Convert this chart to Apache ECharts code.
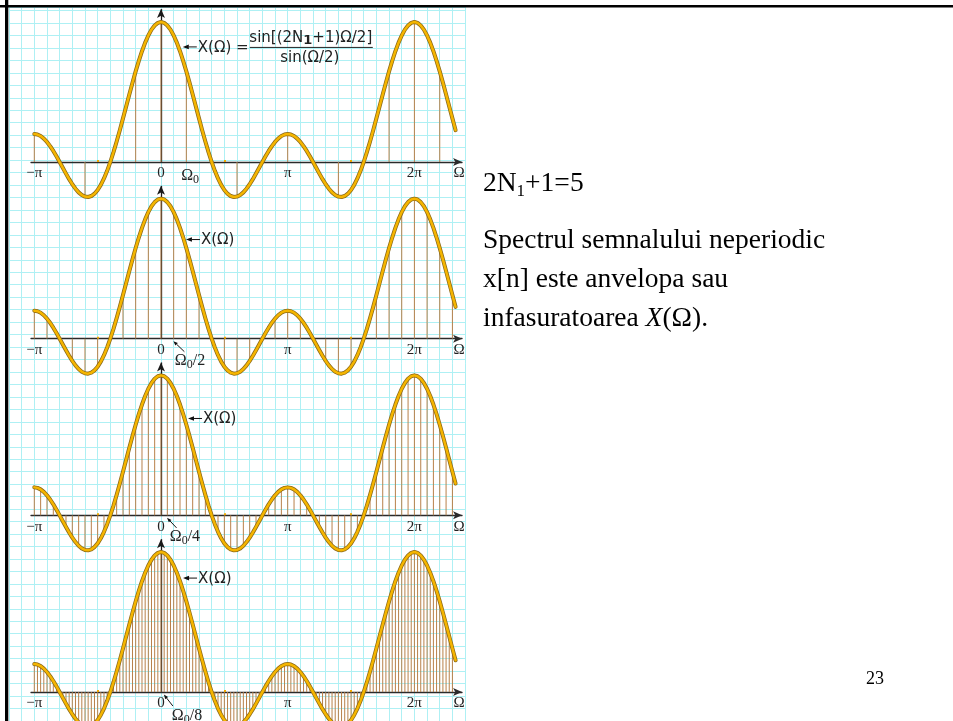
<!DOCTYPE html>
<html>
<head>
<meta charset="utf-8">
<script src="https://cdn.jsdelivr.net/npm/echarts@6/dist/echarts.min.js"></script>
<style>
html,body{margin:0;padding:0;background:#fff;}
#c{width:953px;height:721px;}
</style>
</head>
<body>
<div id="c"></div>
<script>
// ---- data (x in units of π) ----
const envelopeStart = -1;      // first sample: Ω = -π
const envelopeStep = 0.025;    // sample spacing: Ω0/8 = π/40
// X(Ω) read at Ω = -π ... 2.325π, step π/40
const envelope = [
  1, 0.982, 0.927, 0.837, 0.716, 0.567, 0.394, 0.203, 0, -0.208,
  -0.414, -0.612, -0.794, -0.953, -1.084, -1.180, -1.236, -1.249, -1.215, -1.132,
  -1, -0.819, -0.589, -0.315, 0, 0.351, 0.732, 1.137, 1.558, 1.986,
  2.414, 2.834, 3.236, 3.613, 3.957, 4.262, 4.520, 4.727, 4.877, 4.969,
  5,
  4.969, 4.877, 4.727, 4.520, 4.262, 3.957, 3.613, 3.236, 2.834, 2.414,
  1.986, 1.558, 1.137, 0.732, 0.351, 0, -0.315, -0.589, -0.819, -1,
  -1.132, -1.215, -1.249, -1.236, -1.180, -1.084, -0.953, -0.794, -0.612, -0.414,
  -0.208, 0, 0.203, 0.394, 0.567, 0.716, 0.837, 0.927, 0.982, 1,
  0.982, 0.927, 0.837, 0.716, 0.567, 0.394, 0.203, 0, -0.208, -0.414,
  -0.612, -0.794, -0.953, -1.084, -1.180, -1.236, -1.249, -1.215, -1.132, -1,
  -0.819, -0.589, -0.315, 0, 0.351, 0.732, 1.137, 1.558, 1.986, 2.414,
  2.834, 3.236, 3.613, 3.957, 4.262, 4.520, 4.727, 4.877, 4.969,
  5,
  4.969, 4.877, 4.727, 4.520, 4.262, 3.957, 3.613, 3.236, 2.834, 2.414,
  1.986, 1.558, 1.137
];
const stemStride = [8, 4, 2, 1];   // Ω0, Ω0/2, Ω0/4, Ω0/8 in samples
const stemLastIndex = 132;         // last stem at 2.3π
const xTickValues = [-1, 0, 1, 2, 2.352];
const xTickLabels = ['\u2212\u03c0', '0', '\u03c0', '2\u03c0', '\u03a9'];
const smallTickValues = [-0.5, 0.5, 1.5];
const omegaLabels = ['', '/2', '/4', '/8'];

// ---- layout ----
const X0 = 161, PX_PI = 126.7, YU = 28, CELL = 12.62;
const baselines = [162, 162 + 14 * CELL, 162 + 28 * CELL, 162 + 42 * CELL];
const XMIN = -1.026, XMAX = 2.376, YMAX = 5.5;
const GRID_COLOR = '#aef0f4';
const SERIF = "'Liberation Serif', 'Times New Roman', serif";
const SANS = "'DejaVu Sans', Verdana, sans-serif";

const chart = echarts.init(document.getElementById('c'), null, {renderer: 'canvas'});

const grids = [{left: X0 - 1.2 * PX_PI, width: 3.6 * PX_PI, top: 162 - 12.3 * CELL, height: 57.3 * CELL}];
const hidden = {axisLine: {show: false}, axisTick: {show: false}, axisLabel: {show: false}};
const xAxes = [Object.assign({gridIndex: 0, type: 'value', min: -1.2, max: 2.4, interval: 0.1, silent: true,
  splitLine: {show: true, lineStyle: {color: GRID_COLOR, width: 1}}}, hidden)];
const yAxes = [Object.assign({gridIndex: 0, type: 'value', min: -45, max: 12.3, interval: 1, silent: true,
  splitLine: {show: true, lineStyle: {color: GRID_COLOR, width: 1}}}, hidden)];
const series = [];

const curve = envelope.map((v, i) => [envelopeStart + i * envelopeStep, v]);

for (let p = 0; p < 4; p++) {
  const gi = p + 1;
  // grid bottom sits on the Ω axis (value 0); negative lobes are drawn below it unclipped
  grids.push({left: X0 + XMIN * PX_PI, width: (XMAX - XMIN) * PX_PI,
    top: baselines[p] - YMAX * YU, height: YMAX * YU});
  const vals = xTickValues.slice();
  const labs = xTickLabels.slice();
  if (p === 0) { vals.push(0.23); labs.push('{o|\u03a9}{s|0}'); }
  xAxes.push({
    gridIndex: gi, type: 'value', min: XMIN, max: XMAX, silent: true,
    axisLine: {show: true, onZero: false, symbol: ['none', 'arrow'], symbolSize: [6, 9],
      lineStyle: {color: '#2a2a2a', width: 1.3}},
    axisTick: {show: true, customValues: smallTickValues, inside: true, length: 2,
      lineStyle: {color: '#f0a800', width: 2}},
    axisLabel: {show: true, customValues: vals, margin: 4, fontFamily: SERIF, fontSize: 15, color: '#222',
      formatter: v => { for (let i = 0; i < vals.length; i++) if (Math.abs(v - vals[i]) < 1e-6) return labs[i]; return ''; },
      rich: {o: {fontFamily: SERIF, fontSize: 16, lineHeight: 20, color: '#222'},
             s: {fontFamily: SERIF, fontSize: 12, lineHeight: 12, verticalAlign: 'bottom', color: '#222'}}},
    splitLine: {show: false}
  });
  yAxes.push({gridIndex: gi, type: 'value', min: 0, max: YMAX, show: false, splitLine: {show: false}});

  const stems = curve.filter((d, i) => i % stemStride[p] === 0 && i <= stemLastIndex);
  series.push({
    type: 'custom', coordinateSystem: 'cartesian2d', xAxisIndex: gi, yAxisIndex: gi, z: 2, silent: true,
    clip: false, data: stems,
    renderItem: (params, api) => {
      const a = api.coord([api.value(0), 0]);
      const b = api.coord([api.value(0), api.value(1)]);
      return {type: 'line', shape: {x1: a[0], y1: a[1], x2: b[0], y2: b[1]},
        style: {stroke: '#b8804a', lineWidth: 1}};
    },
    markLine: {
      z: 1, silent: true, symbol: ['none', 'arrow'], symbolSize: [6, 9], animation: false,
      label: {show: false}, lineStyle: {color: '#1a1a1a', width: 1.3, type: 'solid'},
      emphasis: {disabled: true},
      data: [[{coord: [0, 0]}, {coord: [0, 5.46]}]]
    }
  });
  series.push({type: 'line', xAxisIndex: gi, yAxisIndex: gi, data: curve, showSymbol: false, silent: true, z: 3,
    clip: false, lineStyle: {color: '#8a6818', width: 4.0, cap: 'round', join: 'round'}});
  series.push({type: 'line', xAxisIndex: gi, yAxisIndex: gi, data: curve, showSymbol: false, silent: true, z: 4,
    clip: false, lineStyle: {color: '#f5b500', width: 2.5, cap: 'round', join: 'round'}});
}

chart.setOption({animation: false, grid: grids, xAxis: xAxes, yAxis: yAxes, series: series});

// ---- annotations ----
function arrow(tail, tip, L, W) {
  const dx = tip[0] - tail[0], dy = tip[1] - tail[1], len = Math.hypot(dx, dy);
  const ux = dx / len, uy = dy / len;
  const bx = tip[0] - ux * L, by = tip[1] - uy * L;
  return [
    {type: 'line', z: 100, shape: {x1: tail[0], y1: tail[1], x2: bx, y2: by}, style: {stroke: '#111', lineWidth: 1}},
    {type: 'polygon', z: 100, shape: {points: [[tip[0], tip[1]], [bx - uy * W, by + ux * W], [bx + uy * W, by - ux * W]]},
      style: {fill: '#111'}}
  ];
}
const g = [];
const xArrowTip = [[0.172, 4.11], [0.197, 3.54], [0.213, 3.46], [0.174, 4.07]];
for (let p = 0; p < 4; p++) {
  const tip = chart.convertToPixel({gridIndex: p + 1}, xArrowTip[p]);
  g.push(...arrow([tip[0] + 14, tip[1]], tip, 6, 2.3));
  g.push({type: 'text', z: 100, x: tip[0] + 15, y: tip[1] + 1,
    style: {text: p === 0 ? 'X(\u03a9) =' : 'X(\u03a9)', fontFamily: SANS, fontSize: 15, fill: '#222',
      align: 'left', verticalAlign: 'middle'}});
  if (p === 0) {
    g.push({type: 'text', z: 100, x: tip[0] + 128, y: tip[1] - 9,
      style: {text: '{t|sin[(2N}{b|1}{t|+1)\u03a9/2]}', align: 'center', verticalAlign: 'middle',
        rich: {t: {fontFamily: SANS, fontSize: 15, lineHeight: 18, fill: '#222'},
               b: {fontFamily: SANS, fontSize: 13, fontWeight: 'bold', lineHeight: 13, verticalAlign: 'bottom', fill: '#222'}}}});
    g.push({type: 'line', z: 100, shape: {x1: tip[0] + 67, y1: tip[1] + 0.5, x2: tip[0] + 190, y2: tip[1] + 0.5},
      style: {stroke: '#222', lineWidth: 1}});
    g.push({type: 'text', z: 100, x: tip[0] + 127, y: tip[1] + 11,
      style: {text: 'sin(\u03a9/2)', fontFamily: SANS, fontSize: 15, fill: '#222', align: 'center', verticalAlign: 'middle'}});
  } else {
    const ax = chart.convertToPixel({gridIndex: p + 1}, [envelopeStep * stemStride[p], 0]);
    const t = [ax[0] - 0.3, ax[1] + 2.5];
    const tailOff = [[0, 0], [11, 10.5], [9.5, 10], [9, 11.5]][p];
    const textOff = [[0, 0], [1.5, 9.5], [2.7, 8.5], [8, 11.5]][p];
    g.push(...arrow([t[0] + tailOff[0], t[1] + tailOff[1]], t, 4.5, 1.8));
    g.push({type: 'text', z: 100, x: t[0] + textOff[0], y: t[1] + textOff[1],
      style: {text: '{o|\u03a9}{s|0}{o|' + omegaLabels[p] + '}', align: 'left', verticalAlign: 'top',
        rich: {o: {fontFamily: SERIF, fontSize: 16, lineHeight: 20, fill: '#222'},
               s: {fontFamily: SERIF, fontSize: 12, lineHeight: 12, verticalAlign: 'bottom', fill: '#222'}}}});
  }
}
// slide frame
g.push({type: 'rect', z: 110, shape: {x: 0, y: 5, width: 953, height: 2.5}, style: {fill: '#000'}});
g.push({type: 'rect', z: 110, shape: {x: 5, y: 0, width: 3.3, height: 721}, style: {fill: '#000'}});
// slide text
const TX = 483, FS = 27.5;
g.push({type: 'text', z: 100, x: TX, y: 184, style: {text: '{a|2N}{s|1}{a|+1=5}', align: 'left', verticalAlign: 'middle',
  rich: {a: {fontFamily: SERIF, fontSize: FS, lineHeight: 32, fill: '#000'},
         s: {fontFamily: SERIF, fontSize: 17, lineHeight: 15, verticalAlign: 'bottom', fill: '#000'}}}});
g.push({type: 'text', z: 100, x: TX, y: 241, style: {text: 'Spectrul semnalului neperiodic', fontFamily: SERIF, fontSize: FS,
  fill: '#000', align: 'left', verticalAlign: 'middle'}});
g.push({type: 'text', z: 100, x: TX, y: 280, style: {text: 'x[n] este anvelopa sau', fontFamily: SERIF, fontSize: FS,
  fill: '#000', align: 'left', verticalAlign: 'middle'}});
g.push({type: 'text', z: 100, x: TX, y: 319, style: {text: '{a|infasuratoarea }{i|X}{a|(\u03a9).}', align: 'left', verticalAlign: 'middle',
  rich: {a: {fontFamily: SERIF, fontSize: FS, lineHeight: 32, fill: '#000'},
         i: {fontFamily: SERIF, fontSize: FS, lineHeight: 32, fontStyle: 'italic', fill: '#000'}}}});
g.push({type: 'text', z: 100, x: 866, y: 679, style: {text: '23', fontFamily: SERIF, fontSize: 18, fill: '#000',
  align: 'left', verticalAlign: 'middle'}});

chart.setOption({graphic: {elements: g}});
</script>
</body>
</html>
